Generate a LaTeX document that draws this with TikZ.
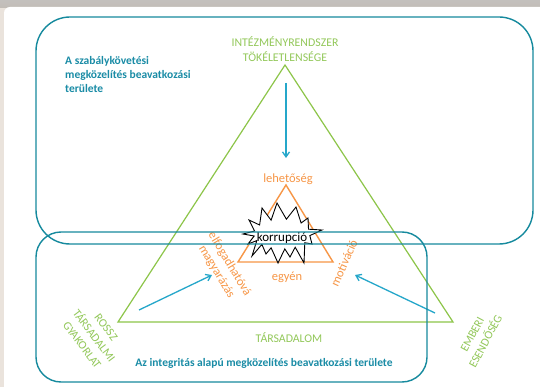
\documentclass[tikz,border=0pt]{standalone}
\usepackage{fontspec}
\setmainfont{Carlito}
\usetikzlibrary{positioning}
\usetikzlibrary{arrows.meta}
\definecolor{tealline}{HTML}{168A9E}
\definecolor{tealtext}{HTML}{1A8CA6}
\definecolor{arrowblue}{HTML}{25A7CA}
\definecolor{grassline}{HTML}{8DC549}
\definecolor{grasstext}{HTML}{93C85A}
\definecolor{orangeline}{HTML}{F79646}
\definecolor{panelbeige}{HTML}{EAE3DC}
\definecolor{bandgray}{HTML}{C2BCB6}

\begin{document}
\begin{tikzpicture}[x=1pt,y=-1pt,
	area box/.style={draw=tealline,line width=1.4pt},
	grass label/.style={text=grasstext,font=\fontsize{11.8}{15}\selectfont,align=center,inner sep=0pt},
	orange label/.style={text=orangeline,font=\fontsize{12.5}{15}\selectfont,align=center,inner sep=0pt},
	area label/.style={text=tealtext,font=\fontsize{11.5}{14}\selectfont\bfseries,inner sep=0pt},
	push arrow/.style={draw=arrowblue,line width=1.3pt,-{Straight Barb[length=5pt,width=7pt]}},
	burst line/.style={draw=black,fill=white,line width=0.9pt,line join=miter},
	burst text/.style={inner sep=0pt,font=\fontsize{13}{15}\selectfont}]

	% background panel
	\useasboundingbox (0,0) rectangle (540,387);
	\fill[panelbeige] (0,0) rectangle (540,387);
	\shade[top color=bandgray!80!black!60,bottom color=bandgray] (0,0) rectangle (540,8);
	\fill[white,rounded corners=6pt] (4,7) rectangle (548,395);

	% corner points of the two triangles
	\coordinate (G top) at (285,65);
	\coordinate (G left) at (118,322);
	\coordinate (G right) at (453,322);
	\coordinate (O top) at (286,185);
	\coordinate (O left) at (238,262);
	\coordinate (O right) at (333,262);

	\draw[grassline,line width=1.2pt,line join=miter] (G top) -- (G left) -- (G right) -- cycle;
	\draw[orangeline,line width=1.4pt,line join=miter] (O top) -- (O left) -- (O right) -- cycle;

	% the burst round the centre word
	\coordinate (burst c) at (282,234);
	\begin{scope}[shift={(burst c)}]
		\draw[burst line] (-20,-26) -- (-10.9,-13.8) -- (-5,-31) -- (4.4,-14.8)
			-- (14,-27) -- (19.1,-11) -- (26,-16) -- (26.5,-4.8) -- (40,-4)
			-- (27.8,1.6) -- (30,10) -- (22.8,8.7) -- (22,29) -- (13.2,13.2)
			-- (8,23) -- (2.8,14.9) -- (-4,29) -- (-10.9,13.8) -- (-16,20)
			-- (-20.1,10.4) -- (-30,22) -- (-25.2,6.6) -- (-34,10) -- (-27.8,2)
			-- (-39,0) -- (-27.4,-3) -- (-33,-14) -- (-22.4,-9) -- cycle;
	\end{scope}
	\node[burst text] (korr) at (282,238) {korrupció};

	% labels
	\node[grass label] (inst) at (285,49) {INTÉZMÉNYRENDSZER\\TÖKÉLETLENSÉGE};
	\node[grass label] (soc) at (289,338) {TÁRSADALOM};
	\node[grass label,rotate=-53] (bad) at (94,336) {ROSSZ\\TÁRSADALMI\\GYAKORLAT};
	\node[grass label,rotate=62] (human) at (479,338) {EMBERI\\ESENDŐSÉG};
	\node[orange label] (chance) at (288,179) {lehetőség};
	\node[orange label] (indiv) at (287,277) {egyén};
	\node[orange label,rotate=-59] (excuse) at (223,268) {elfogadhatóvá\\magyarázás};
	\node[orange label,rotate=66] (motive) at (344,263) {motiváció};
	\node[area label,align=left,anchor=north west] (rule) at (65,56)
		{A szabálykövetési\\megközelítés beavatkozási\\területe};
	\node[area label] (integ) at (264,363)
		{Az integritás alapú megközelítés beavatkozási területe};

	% arrow ends
	\coordinate (top from) at (286,83);
	\coordinate (top to) at (286,158);
	\coordinate (left from) at (139,310);
	\coordinate (left to) at (212,275);
	\coordinate (right from) at (435,313);
	\coordinate (right to) at (355,275);

	\draw[push arrow] (top from) -- (top to);
	\draw[push arrow] (left from) -- (left to);
	\draw[push arrow] (right from) -- (right to);

	% the two areas
	\draw[area box,rounded corners=34pt] (36,17) rectangle (533,244);
	\draw[area box,rounded corners=25pt] (36,232) rectangle (427,382);
\end{tikzpicture}
\end{document}
